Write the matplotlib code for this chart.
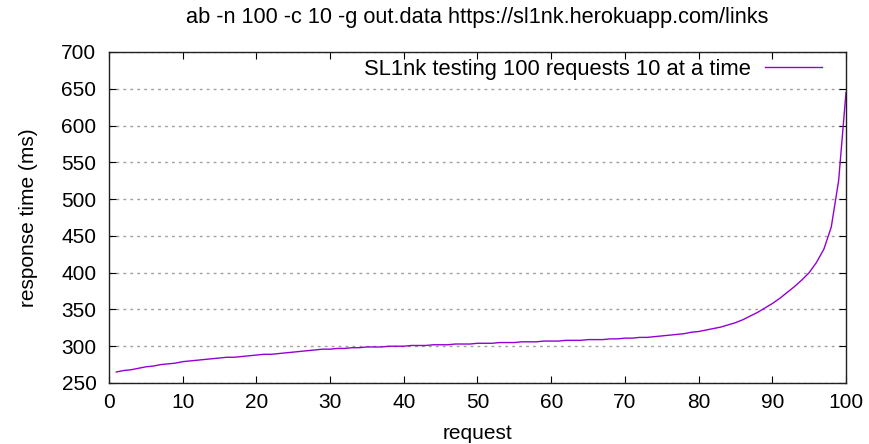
import numpy as np
import matplotlib.pyplot as plt

plt.rcParams['font.family'] = ['Liberation Sans', 'DejaVu Sans']

# ab results, sorted response times (ms)
requests = list(range(1, 101))
times = [265, 267, 268, 270, 272, 273, 275, 276, 277, 279,
         280, 281, 282, 283, 284, 285, 285, 286, 287, 288,
         289, 289, 290, 291, 292, 293, 294, 295, 296, 296,
         297, 297, 298, 298, 299, 299, 299, 300, 300, 300,
         301, 301, 301, 302, 302, 302, 303, 303, 303, 304,
         304, 304, 305, 305, 305, 306, 306, 306, 307, 307,
         307, 308, 308, 308, 309, 309, 309, 310, 310, 311,
         311, 312, 312, 313, 314, 315, 316, 317, 319, 320,
         322, 324, 326, 329, 332, 336, 341, 346, 352, 358,
         365, 373, 381, 390, 400, 414, 432, 462, 525, 645]

xticks = list(range(0, 101, 10))
yticks = list(range(250, 701, 50))

fig = plt.figure(figsize=(8.69, 4.44), dpi=100)
ax = fig.add_axes([109/869, 1-383/444, (846-109)/869, (383-52)/444])

ax.plot(requests, times, color='#9400D3', linewidth=1,
        label='SL1nk testing 100 requests 10 at a time')

ax.set_xlim(0, 100)
ax.set_ylim(250, 700)
ax.set_xticks(xticks)
ax.set_yticks(yticks)
ax.tick_params(direction='in', top=True, right=True, length=5, labelsize=15)
ax.tick_params(axis='x', pad=7)
ax.tick_params(axis='y', pad=9)
ax.grid(axis='y', color='#a0a0a0', linestyle=(0, (2, 3)), linewidth=1)
for s in ax.spines.values():
    s.set_linewidth(1)
    s.set_color('#202020')

ax.set_xlabel('request', fontsize=15, labelpad=9)
ax.set_ylabel('response time (ms)', fontsize=15, labelpad=17)
fig.text((109+846)/2/869, 1-18/444,
         'ab -n 100 -c 10 -g out.data https://sl1nk.herokuapp.com/links',
         fontsize=15.7, ha='center', va='center')

ax.legend(loc='upper right', bbox_to_anchor=(0.979, 1.005), frameon=False,
          markerfirst=False, fontsize=15.8, handlelength=2.6,
          borderaxespad=0, handletextpad=0.65)

plt.savefig('out.png', dpi=100)
